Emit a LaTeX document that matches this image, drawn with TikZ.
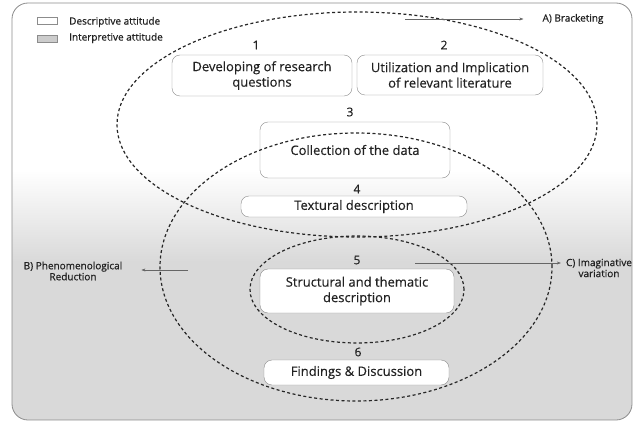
\documentclass[tikz,border=0pt]{standalone}
\usepackage{fontspec}
\setmainfont{Open Sans}
\newfontfamily\sidefont[FakeBold=0.6]{Open Sans}
\newfontfamily\boxfont[FakeBold=0.3]{Open Sans}
\usetikzlibrary{positioning,arrows.meta}
\definecolor{frameline}{HTML}{8C8C8C}
\definecolor{shadegray}{HTML}{D9D9D9}
\definecolor{textgray}{HTML}{222222}
\tikzset{
  stepbox/.style={rectangle,draw=frameline,thin,rounded corners=8pt,fill=white,align=center,inner sep=0pt,text=textgray,font=\boxfont\fontsize{13}{15.5}\selectfont},
  stepnum/.style={text=textgray,font=\boxfont\fontsize{12}{14}\selectfont},
  sidetext/.style={text=textgray,align=center,inner sep=1pt,font=\sidefont\fontsize{10}{11}\selectfont},
  sidearrow/.style={-{Stealth[length=4pt,width=3pt]},draw=black!60,thin},
  ring/.style={draw=black!85,line width=1.2pt,dash pattern=on 3pt off 2.5pt}
}
\begin{document}
\begin{tikzpicture}[x=1pt,y=-1pt]
\useasboundingbox(0,0)rectangle(637,425);
%background frame with shading
\begin{scope}
\clip[rounded corners=16pt](12,3)rectangle(632,420);
\fill[white](12,3)rectangle(632,170);
\shade[top color=white,bottom color=shadegray](12,170)rectangle(632,262);
\fill[shadegray](12,261)rectangle(632,420);
\end{scope}
\draw[frameline,thick,rounded corners=16pt](12,3)rectangle(632,420);
%legend
\node[rectangle,draw=frameline,fill=white,minimum width=20pt,minimum height=7pt,inner sep=0pt](legdesc)at(47,20.5){};
\node[rectangle,draw=frameline,fill=shadegray!85!gray,minimum width=20pt,minimum height=7pt,inner sep=0pt](legint)at(47,38.5){};
\node[sidetext,anchor=west](legdesctext)at(68,22){Descriptive attitude};
\node[sidetext,anchor=west](leginttext)at(68,38){Interpretive attitude};
%steps
\node[stepbox,minimum width=180pt,minimum height=41pt](develop)at(262,75.5){Developing of research\\questions};
\node[stepbox,minimum width=186pt,minimum height=40pt](literature)at(450,75){Utilization and Implication\\of relevant literature};
\node[stepbox,minimum width=190pt,minimum height=56pt](collection)at(355,150){Collection of the data};
\node[stepbox,minimum width=226pt,minimum height=21pt](textural)at(354,206.5){Textural description};
\node[stepbox,minimum width=194pt,minimum height=44pt](structural)at(357,291){Structural and thematic\\description};
\node[stepbox,minimum width=185pt,minimum height=25pt](findings)at(356.5,372.5){Findings \& Discussion};
%step numbers
\node[stepnum](n1)at(256,45){1};
\node[stepnum](n2)at(444,45){2};
\node[stepnum](n3)at(350,112){3};
\node[stepnum](n4)at(357,189){4};
\node[stepnum](n5)at(357,260){5};
\node[stepnum](n6)at(358,352){6};
%attitude rings
\draw[ring](357,124.5)ellipse[x radius=240pt,y radius=112.5pt]; %bracketing
\draw[ring](356,267)ellipse[x radius=196pt,y radius=134pt]; %reduction
\draw[ring](357,289.5)ellipse[x radius=107pt,y radius=53.5pt]; %variation
%side labels and arrows
\node[sidetext](bracketing)at(573,19){A) Bracketing};
\node[sidetext](reduction)at(73,271){B) Phenomenological\\Reduction};
\node[sidetext](imaginative)at(599,268){C) Imaginative\\variation};
\coordinate(afrom)at(405,19);
\coordinate(bfrom)at(188,270);
\coordinate(cfrom)at(415,263);
\draw[sidearrow,shorten >=18pt](afrom)--(bracketing.west);
\draw[sidearrow,shorten >=18pt](bfrom)--(bfrom-|reduction.east);
\draw[sidearrow,shorten >=4pt](cfrom)--(cfrom-|imaginative.west);
\end{tikzpicture}
\end{document}
